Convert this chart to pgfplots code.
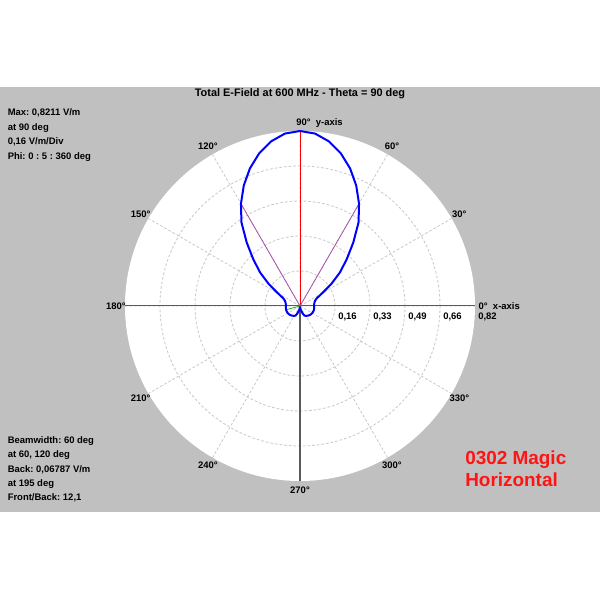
\documentclass[border=0pt]{standalone}
\usepackage{pgfplots}
\pgfplotsset{compat=1.18}
\usepgfplotslibrary{polar}
\usepackage{fontspec}
\setmainfont{Liberation Sans}
\frenchspacing
\definecolor{bggray}{RGB}{192,192,192}
\definecolor{gridgray}{RGB}{200,200,200}
\definecolor{purp}{RGB}{170,80,170}
\definecolor{grn}{RGB}{40,170,40}
\definecolor{axgray}{RGB}{90,90,90}
\definecolor{redtxt}{RGB}{255,20,20}
\newcommand{\lbl}{\fontsize{7.1}{8}\selectfont\bfseries}
\newcommand{\ttl}{\fontsize{8.2}{9}\selectfont\bfseries}
\begin{document}
\begin{tikzpicture}[x=0.75pt,y=0.75pt]
\fill[white] (0,0) rectangle (600,600);
\fill[bggray] (0,88) rectangle (600,513);
\fill[white] (300,294) circle[radius=131.25pt];
\begin{polaraxis}[
 at={(225pt,220.5pt)}, anchor=center,
 width=262.5pt, height=262.5pt, scale only axis,
 xmin=0, xmax=360, ymin=0, ymax=0.8211,
 xtick={0,30,...,330}, ytick={0.16422,0.32844,0.49266,0.65688},
 xticklabels={}, yticklabels={},
 grid=major,
 major grid style={gridgray, dash pattern=on 2pt off 1.5pt, line width=0.6pt},
 axis line style={draw=none},
 major tick length=0pt,
 clip=false,
 no markers,
]
\addplot[axgray, line width=0.75pt] coordinates {(180,0.8211) (0,0.8211)};
\addplot[axgray, line width=0.75pt] coordinates {(270,0.8211) (270,0)};
\addplot[red, line width=0.6pt] coordinates {(90,0) (90,0.8211)};
\addplot[purp, line width=0.6pt] coordinates {(60,0.554) (0,0) (120,0.554)};
\addplot[grn, line width=0.6pt] coordinates {(0,0) (195,0.0679)};
\addplot[blue, line width=1.5pt, line join=round] coordinates {
(0,0.066) (5,0.0665) (10,0.068) (15,0.071) (20,0.076) (25,0.088) (30,0.120) (35,0.178) (40,0.244) (45,0.310) (50,0.389) (55,0.479) (60,0.554) (65,0.624) (70,0.687) (75,0.741) (80,0.784) (85,0.812) (90,0.8211) (95,0.812) (100,0.784) (105,0.741) (110,0.687) (115,0.624) (120,0.554) (125,0.479) (130,0.389) (135,0.310) (140,0.244) (145,0.178) (150,0.120) (155,0.088) (160,0.076) (165,0.071) (170,0.068) (175,0.0665) (180,0.066) (185,0.0665) (190,0.0673) (195,0.0679) (200,0.0676) (205,0.0670) (210,0.0662) (215,0.0650) (220,0.0635) (225,0.0615) (230,0.0590) (235,0.0560) (240,0.0530) (245,0.0500) (250,0.0380) (255,0.0260) (260,0.0160) (265,0.0090) (270,0.0060) (275,0.0090) (280,0.0160) (285,0.0260) (290,0.0380) (295,0.0500) (300,0.0530) (305,0.0560) (310,0.0590) (315,0.0615) (320,0.0635) (325,0.0650) (330,0.0662) (335,0.0670) (340,0.0676) (345,0.0679) (350,0.0673) (355,0.0665) (360,0.066)};
% angle labels
\pgfplotsinvokeforeach{30,60,120,150,180,210,240,270,300,330}{
 \node[font=\lbl, inner sep=0pt] at (axis cs:#1,0.8633) {#1°};
}
\node[font=\lbl, inner sep=0pt, anchor=west] at (axis cs:0,0.8211) [xshift=2.5pt] {0°\hspace{4pt}x-axis};
\node[font=\lbl, inner sep=0pt, anchor=west] at (axis cs:0,0.16422) [xshift=2.3pt, yshift=-8pt] {0,16};
\node[font=\lbl, inner sep=0pt, anchor=west] at (axis cs:0,0.32844) [xshift=2.3pt, yshift=-8pt] {0,33};
\node[font=\lbl, inner sep=0pt, anchor=west] at (axis cs:0,0.49266) [xshift=2.3pt, yshift=-8pt] {0,49};
\node[font=\lbl, inner sep=0pt, anchor=west] at (axis cs:0,0.65688) [xshift=2.3pt, yshift=-8pt] {0,66};
\node[font=\lbl, inner sep=0pt, anchor=west] at (axis cs:0,0.8211) [xshift=2.3pt, yshift=-8pt] {0,82};
\end{polaraxis}
\node[font=\lbl, inner sep=0pt, anchor=west] at (296,476.7) {90°\hspace{4pt}y-axis};
\node[font=\ttl, inner sep=0pt, anchor=base] at (300,503.3) {Total E-Field at 600 MHz - Theta = 90 deg};
\node[font=\lbl, inner sep=0pt, anchor=base west] at (7.5,484) {Max: 0,8211 V/m};
\node[font=\lbl, inner sep=0pt, anchor=base west] at (7.5,469.3) {at 90 deg};
\node[font=\lbl, inner sep=0pt, anchor=base west] at (7.5,455) {0,16 V/m/Div};
\node[font=\lbl, inner sep=0pt, anchor=base west] at (7.5,440.7) {Phi: 0 : 5 : 360 deg};
\node[font=\lbl, inner sep=0pt, anchor=base west] at (7.5,156) {Beamwidth: 60 deg};
\node[font=\lbl, inner sep=0pt, anchor=base west] at (7.5,142.3) {at 60, 120 deg};
\node[font=\lbl, inner sep=0pt, anchor=base west] at (7.5,127.7) {Back: 0,06787 V/m};
\node[font=\lbl, inner sep=0pt, anchor=base west] at (7.5,113.7) {at 195 deg};
\node[font=\lbl, inner sep=0pt, anchor=base west] at (7.5,99.3) {Front/Back: 12,1};
\node[font=\fontsize{14.2}{16}\selectfont\bfseries, text=redtxt, inner sep=0pt, anchor=base west] at (465,135) {0302 Magic};
\node[font=\fontsize{14.2}{16}\selectfont\bfseries, text=redtxt, inner sep=0pt, anchor=base west] at (465,113.3) {Horizontal};
\end{tikzpicture}
\end{document}
